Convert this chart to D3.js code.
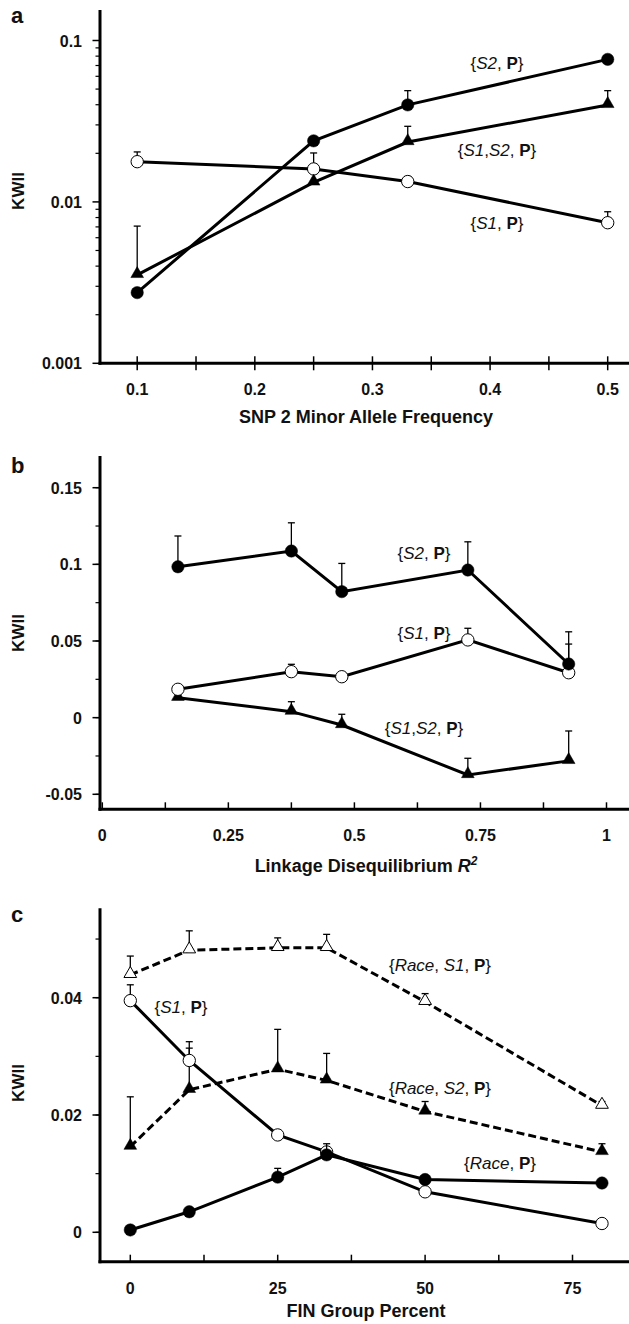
<!DOCTYPE html>
<html>
<head>
<meta charset="utf-8">
<script src="https://cdn.jsdelivr.net/npm/d3@7"></script>
<style>
  body { margin: 0; background: #fff; }
  svg text { font-family: "Liberation Sans", Arial, sans-serif; fill: #111; }
</style>
</head>
<body>
<div id="chart"></div>
<script>
// panel a: KWII vs SNP 2 minor allele frequency (log scale)
var aX = [0.1, 0.25, 0.33, 0.5];
var aS2 = [0.00274, 0.0239, 0.0399, 0.0764];
var aS2Err = [null, null, 0.0489, null];
var aS1S2 = [0.00353, 0.0132, 0.0235, 0.0399];
var aS1S2Err = [0.00708, null, 0.0294, 0.0489];
var aS1 = [0.01775, 0.016, 0.01337, 0.00743];
var aS1Err = [0.0204, 0.0201, 0.01436, 0.00869];
var aYTicks = [0.001, 0.01, 0.1];
var aYLabels = ["0.001", "0.01", "0.1"];
var aXTicks = [0.1, 0.2, 0.3, 0.4, 0.5];

// panel b: KWII vs linkage disequilibrium R^2
var bX = [0.15, 0.375, 0.475, 0.725, 0.925];
var bS2 = [0.0984, 0.1087, 0.0822, 0.0963, 0.035];
var bS2Err = [0.1185, 0.1271, 0.1006, 0.1147, 0.056];
var bS1 = [0.0185, 0.030, 0.0267, 0.0507, 0.0293];
var bS1Err = [null, 0.0348, null, 0.0583, 0.048];
var bS1S2 = [0.013, 0.0039, -0.0048, -0.0374, -0.0282];
var bS1S2Err = [null, 0.0104, 0.0022, -0.0265, -0.0087];
var bYTicks = [-0.05, 0, 0.05, 0.1, 0.15];
var bYLabels = ["-0.05", "0", "0.05", "0.1", "0.15"];
var bXTicks = [0, 0.25, 0.5, 0.75, 1];
var bXLabels = ["0", "0.25", "0.5", "0.75", "1"];

// panel c: KWII vs FIN group percent
var cX = [0, 10, 25, 33.3, 50, 80];
var cRaceS1 = [0.0439, 0.0481, 0.0485, 0.0485, 0.0393, 0.0216];
var cRaceS1Err = [0.0471, 0.0514, 0.0502, 0.0508, 0.0407, 0.0223];
var cRaceS2 = [0.0146, 0.0243, 0.0278, 0.0259, 0.0206, 0.0137];
var cRaceS2Err = [0.0231, 0.0325, 0.0346, 0.0305, 0.0223, 0.0151];
var cS1 = [0.0395, 0.0293, 0.0166, 0.0137, 0.0069, 0.0015];
var cS1Err = [0.0422, 0.0314, null, null, null, null];
var cRaceP = [0.0004, 0.0035, 0.0094, 0.0132, 0.009, 0.0084];
var cRacePErr = [null, null, 0.0109, 0.0151, null, null];
var cYTicks = [0, 0.02, 0.04];
var cYLabels = ["0", "0.02", "0.04"];
var cXTicks = [0, 25, 50, 75];

var svg = d3.select("#chart").append("svg")
    .attr("width", 629)
    .attr("height", 1324);

// draws the axes frame of one panel
function drawAxes(p) {
    var g = svg.append("g");
    // y axis line
    g.append("line").attr("x1", p.x0).attr("x2", p.x0)
        .attr("y1", p.top).attr("y2", p.bottom + 1.5)
        .attr("stroke", "#000").attr("stroke-width", 3);
    // x axis line
    g.append("line").attr("x1", p.x0 - 1.5).attr("x2", p.right)
        .attr("y1", p.bottom).attr("y2", p.bottom)
        .attr("stroke", "#000").attr("stroke-width", 3);

    p.yMinor.forEach(function(v) {
        g.append("line").attr("x1", p.x0 - 4.5).attr("x2", p.x0)
            .attr("y1", p.y(v)).attr("y2", p.y(v))
            .attr("stroke", "#000").attr("stroke-width", 1.2);
    });
    p.yTicks.forEach(function(v, i) {
        g.append("line").attr("x1", p.x0 - 7.5).attr("x2", p.x0)
            .attr("y1", p.y(v)).attr("y2", p.y(v))
            .attr("stroke", "#000").attr("stroke-width", 1.5);
        g.append("text").attr("x", p.x0 - 18).attr("y", p.y(v) + 6)
            .attr("text-anchor", "end").attr("font-size", 16).attr("font-weight", "bold")
            .text(p.yLabels[i]);
    });
    p.xMinor.forEach(function(v) {
        g.append("line").attr("x1", p.x(v)).attr("x2", p.x(v))
            .attr("y1", p.bottom - 7).attr("y2", p.bottom + (p.cross ? 7 : 0))
            .attr("stroke", "#000").attr("stroke-width", 1.5);
    });
    p.xTicks.forEach(function(v, i) {
        g.append("text").attr("x", p.x(v)).attr("y", p.bottom + 32)
            .attr("text-anchor", "middle").attr("font-size", 16).attr("font-weight", "bold")
            .text(p.xLabels[i]);
    });
    // x title
    var t = g.append("text").attr("x", 366).attr("y", p.titleY)
        .attr("text-anchor", "middle").attr("font-size", 18).attr("font-weight", "bold");
    p.xTitle.forEach(function(s) {
        var ts = t.append("tspan").text(s.t);
        if (s.i) ts.attr("font-style", "italic");
        if (s.sup) ts.attr("font-size", 12).attr("dy", -7);
    });
    // y title
    g.append("text")
        .attr("transform", "translate(24," + p.yTitleY + ") rotate(-90)")
        .attr("text-anchor", "middle").attr("font-size", 17).attr("font-weight", "bold")
        .text("KWII");
    // panel letter
    g.append("text").attr("x", 11).attr("y", p.letterY)
        .attr("font-size", 22).attr("font-weight", "bold")
        .text(p.letter);
}

function drawSeries(p, xs, ys, errs, marker, dashed) {
    var g = svg.append("g");
    // error bars
    xs.forEach(function(x, i) {
        if (errs[i] == null) return;
        g.append("line").attr("x1", p.x(x)).attr("x2", p.x(x))
            .attr("y1", p.y(ys[i])).attr("y2", p.y(errs[i]))
            .attr("stroke", "#000").attr("stroke-width", 1.3);
        g.append("line").attr("x1", p.x(x) - 3.5).attr("x2", p.x(x) + 3.5)
            .attr("y1", p.y(errs[i])).attr("y2", p.y(errs[i]))
            .attr("stroke", "#000").attr("stroke-width", 1.3);
    });
    var line = d3.line()
        .x(function(d) { return p.x(d[0]); })
        .y(function(d) { return p.y(d[1]); });
    g.append("path").datum(d3.zip(xs, ys))
        .attr("d", line).attr("fill", "none")
        .attr("stroke", "#000").attr("stroke-width", 3)
        .attr("stroke-dasharray", dashed ? "8,4" : null);

    var tri = marker.indexOf("tri") >= 0;
    var sym = d3.symbol().type(tri ? d3.symbolTriangle : d3.symbolCircle)
        .size(tri ? 70 : 120);
    var open = marker.indexOf("open") >= 0;
    xs.forEach(function(x, i) {
        g.append("path").attr("d", sym())
            .attr("transform", "translate(" + p.x(x) + "," + (p.y(ys[i]) + (tri ? -1 : 0)) + ")")
            .attr("fill", open ? "#fff" : "#000")
            .attr("stroke", "#000").attr("stroke-width", open ? 1 : 0.5);
    });
}

function drawLabel(x, y, parts) {
    var t = svg.append("text").attr("x", x).attr("y", y + 6)
        .attr("text-anchor", "middle").attr("font-size", 17);
    parts.forEach(function(s) {
        var ts = t.append("tspan").text(s.t);
        if (s.i) ts.attr("font-style", "italic");
        if (s.b) ts.attr("font-weight", "bold");
    });
}

// ---- panel a
var pa = {
    letter: "a", letterY: 23, x0: 100, right: 629, top: 10, bottom: 363.3,
    yTitleY: 191, titleY: 423, cross: true,
    x: d3.scaleLinear().domain([0.1, 0.5]).range([137.2, 607.7]),
    y: d3.scaleLog().domain([0.001, 0.1]).range([363.3, 40.5]),
    yTicks: aYTicks, yLabels: aYLabels,
    xTicks: aXTicks, xLabels: aXTicks.map(String),
    xTitle: [{t: "SNP 2 Minor Allele Frequency"}]
};
pa.yMinor = [];
[0.001, 0.01, 0.1].forEach(function(d) {
    for (var k = 2; k <= 9; k++) if (d * k <= 0.15) pa.yMinor.push(d * k);
});
pa.xMinor = d3.range(0.1, 0.501, 0.05);
drawAxes(pa);
drawSeries(pa, aX, aS1, aS1Err, "open-circle", false);
drawSeries(pa, aX, aS1S2, aS1S2Err, "tri", false);
drawSeries(pa, aX, aS2, aS2Err, "circle", false);
drawLabel(497, 63, [{t: "{"}, {t: "S2", i: 1}, {t: ", "}, {t: "P", b: 1}, {t: "}"}]);
drawLabel(497, 150, [{t: "{"}, {t: "S1", i: 1}, {t: ","}, {t: "S2", i: 1}, {t: ", "}, {t: "P", b: 1}, {t: "}"}]);
drawLabel(497, 223, [{t: "{"}, {t: "S1", i: 1}, {t: ", "}, {t: "P", b: 1}, {t: "}"}]);

// ---- panel b
var pb = {
    letter: "b", letterY: 473, x0: 100, right: 629, top: 456, bottom: 809.3,
    yTitleY: 633, titleY: 872, cross: false,
    x: d3.scaleLinear().domain([0, 1]).range([102.3, 606.5]),
    y: d3.scaleLinear().domain([-0.05, 0.15]).range([794.3, 487.7]),
    yTicks: bYTicks, yLabels: bYLabels,
    xTicks: bXTicks, xLabels: bXLabels,
    xTitle: [{t: "Linkage Disequilibrium "}, {t: "R", i: 1}, {t: "2", i: 1, sup: 1}]
};
pb.yMinor = d3.range(-0.05, 0.151, 0.025);
pb.xMinor = d3.range(0, 1.001, 0.125);
drawAxes(pb);
drawSeries(pb, bX, bS1S2, bS1S2Err, "tri", false);
drawSeries(pb, bX, bS1, bS1Err, "open-circle", false);
drawSeries(pb, bX, bS2, bS2Err, "circle", false);
drawLabel(424, 553, [{t: "{"}, {t: "S2", i: 1}, {t: ", "}, {t: "P", b: 1}, {t: "}"}]);
drawLabel(424, 633, [{t: "{"}, {t: "S1", i: 1}, {t: ", "}, {t: "P", b: 1}, {t: "}"}]);
drawLabel(424, 728, [{t: "{"}, {t: "S1", i: 1}, {t: ","}, {t: "S2", i: 1}, {t: ", "}, {t: "P", b: 1}, {t: "}"}]);

// ---- panel c
var pc = {
    letter: "c", letterY: 922, x0: 100, right: 629, top: 908.3, bottom: 1261.7,
    yTitleY: 1083, titleY: 1317, cross: false,
    x: d3.scaleLinear().domain([0, 75]).range([130.3, 572.5]),
    y: d3.scaleLinear().domain([0, 0.04]).range([1232.3, 997.7]),
    yTicks: cYTicks, yLabels: cYLabels,
    xTicks: cXTicks, xLabels: cXTicks.map(String),
    xTitle: [{t: "FIN Group Percent"}]
};
pc.yMinor = d3.range(0, 0.0501, 0.01);
pc.xMinor = d3.range(0, 75.1, 12.5);
drawAxes(pc);
drawSeries(pc, cX, cRaceS1, cRaceS1Err, "open-tri", true);
drawSeries(pc, cX, cRaceS2, cRaceS2Err, "tri", true);
drawSeries(pc, cX, cS1, cS1Err, "open-circle", false);
drawSeries(pc, cX, cRaceP, cRacePErr, "circle", false);
drawLabel(440, 965, [{t: "{"}, {t: "Race", i: 1}, {t: ", "}, {t: "S1", i: 1}, {t: ", "}, {t: "P", b: 1}, {t: "}"}]);
drawLabel(181, 1007, [{t: "{"}, {t: "S1", i: 1}, {t: ", "}, {t: "P", b: 1}, {t: "}"}]);
drawLabel(440, 1088, [{t: "{"}, {t: "Race", i: 1}, {t: ", "}, {t: "S2", i: 1}, {t: ", "}, {t: "P", b: 1}, {t: "}"}]);
drawLabel(500, 1163, [{t: "{"}, {t: "Race", i: 1}, {t: ", "}, {t: "P", b: 1}, {t: "}"}]);
</script>
</body>
</html>
